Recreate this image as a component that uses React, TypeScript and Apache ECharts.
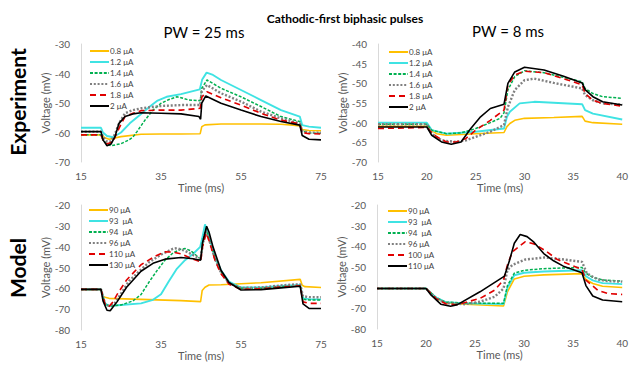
import React, { useEffect, useRef } from "react";
import * as echarts from "echarts";

// ---------- labels ----------
const expLabels = ["0.8 μA", "1.2 μA", "1.4 μA", "1.6 μA", "1.8 μA", "2 μA"];
const modelLeftLabels = ["90 μA", "93  μA", "94  μA", "96 μA", "110 μA", "130 μA"];
const modelRightLabels = ["90 μA", "93  μA", "94  μA", "96 μA", "100 μA", "110 μA"];

// ---------- Experiment, PW = 25 ms ----------
const e25_08 = [[15,-60.8],[20,-60.8],[21,-61.8],[22,-62.3],[25,-61.4],[30,-60.6],[35,-60.5],[40,-60.5],[44.8,-60.4],[45.2,-58],[46,-57.4],[50,-57.1],[60,-57.1],[65,-57.2],[68,-57.5],[69.8,-57.8],[70.3,-59],[72,-59.3],[75,-59.4]];
const e25_12 = [[15,-58.4],[20,-58.4],[20.5,-60],[21.5,-61.2],[23,-61.6],[25,-60],[27.2,-56.9],[29.8,-54],[32.2,-51.2],[34,-49.3],[36.4,-47.9],[40,-47],[44.7,-45.4],[45.3,-42],[46.4,-39.7],[48,-40.5],[50,-42.2],[55,-45.6],[60,-49],[65,-52.4],[69.7,-54.6],[70.3,-57.5],[72,-58],[75,-58.4]];
const e25_14 = [[15,-60.8],[20,-60.8],[20.5,-62.5],[21.5,-64],[22.5,-64.5],[25,-63.8],[27,-62.5],[28,-61.5],[29,-59.7],[31,-55.8],[33,-52.4],[35,-50.1],[37,-48.8],[39,-47.9],[40,-48.2],[42,-49],[44.8,-49.2],[45.2,-45],[46.5,-42.2],[50,-45],[55,-47.9],[60,-51.2],[65,-54.6],[69.7,-56.3],[70.3,-59.5],[72,-60.1],[75,-60.3]];
const e25_16 = [[15,-59.7],[20,-59.7],[20.5,-61.5],[21.5,-63.1],[22.5,-63],[23.5,-60.5],[24.5,-56.9],[26,-53.5],[28,-52.4],[30,-51.8],[35,-51],[40,-50.7],[44.8,-50.7],[45.2,-46],[46.5,-43.9],[50,-46.7],[55,-49.5],[60,-52.9],[65,-55.2],[69.7,-56.9],[70.3,-59.5],[72,-60],[75,-60.1]];
const e25_18 = [[15,-60.8],[20,-60.8],[20.5,-62.5],[21.5,-63.9],[23,-63.1],[24.5,-58.6],[26,-54.6],[28,-53.5],[30,-52.6],[35,-52.4],[40,-52.4],[44.8,-51.8],[45.2,-48],[46.5,-46.2],[50,-48.2],[55,-50.7],[60,-53.5],[65,-55.8],[69.7,-57.1],[70.3,-60],[72,-60.4],[75,-60.5]];
const e25_20 = [[15,-59.7],[20,-59.7],[20.5,-62.5],[21.5,-64.5],[22.5,-63.9],[23.5,-61.4],[24.5,-56.9],[26,-54.6],[28,-53.7],[30,-53.3],[35,-53.5],[40,-53.7],[44.5,-54.6],[44.9,-55.5],[45.2,-50],[46.2,-47.6],[50,-50.1],[55,-52.4],[60,-54.6],[65,-56.3],[69.7,-57.5],[70.3,-61],[72,-62.3],[75,-62.5]];

// ---------- Experiment, PW = 8 ms ----------
const e8_08 = [[15,-60.9],[20,-60.9],[20.5,-62],[21,-62.8],[22,-63.2],[25,-62.8],[27.9,-62.5],[28.2,-61],[28.5,-60.2],[29,-59.4],[30,-58.9],[33,-58.7],[35.9,-58.4],[36.2,-59.6],[37,-60],[40,-60.4]];
const e8_12 = [[15,-60],[20,-60],[20.5,-61.9],[22,-62.8],[25,-62.3],[27.9,-61.5],[28.2,-58.5],[28.5,-57.2],[29.5,-55.1],[31,-54.7],[35.9,-55.3],[36.2,-56.8],[37,-57.7],[40,-59.2]];
const e8_14 = [[15,-60.4],[20,-60.4],[20.5,-61.9],[22,-62.8],[23.5,-62.6],[25,-61.5],[26.5,-60],[27.5,-58.9],[27.9,-57.5],[28.3,-51.7],[29,-48.3],[30,-46.8],[32,-47.3],[34,-48.5],[35.9,-49.6],[36.2,-51.3],[37,-52.6],[38,-53.4],[40,-53.8]];
const e8_16 = [[15,-60.4],[20,-60.4],[20.5,-62.8],[21.5,-64.5],[23,-64.9],[24,-64.5],[25,-63.6],[26.5,-62.3],[27.9,-60.6],[28.3,-56],[29,-51.7],[30,-49.2],[31,-48.8],[33,-49.9],[35.9,-51.3],[36.2,-53],[37,-54.3],[38,-55.1],[40,-55.4]];
const e8_18 = [[15,-61.5],[20,-61.2],[20.5,-62.5],[21,-63.6],[22,-64.9],[23,-64.9],[24,-64],[25,-61.9],[26.5,-59.4],[27.9,-56.8],[28.3,-50.4],[29,-47.9],[30,-46.9],[32,-47.3],[34,-48.8],[35.9,-50.4],[36.2,-52.6],[37,-54.3],[38,-55.1],[40,-55.8]];
const e8_20 = [[15,-61.1],[20,-61.1],[20.5,-63.2],[21.5,-64.9],[22.5,-65.5],[23.5,-64.9],[24.5,-61.5],[25.5,-58.5],[26.5,-56.4],[27.9,-55.3],[28.3,-50],[29,-47.1],[30,-45.9],[32,-46.6],[34,-48.2],[35.9,-49.9],[36.2,-51.6],[37,-53.4],[38,-54.7],[40,-55.5]];

// ---------- Model, PW = 25 ms ----------
const m25_90 = [[15,-60.5],[20,-60.5],[20.5,-64],[22,-64.8],[30,-65.3],[40,-65.9],[44.9,-66.4],[45.3,-61],[46,-59.5],[47,-58.4],[50,-58.3],[60,-57.3],[69.8,-55.7],[70.3,-58.5],[71,-59.2],[75,-59.6]];
const m25_93 = [[15,-60.5],[20,-60.5],[21,-67.2],[22,-68.5],[25,-68],[30,-67.2],[33,-65.5],[35,-62.8],[37,-56.5],[39,-50.5],[41,-46.5],[43,-43.5],[44.8,-40.1],[45.3,-36],[46,-29.3],[47,-35.3],[48.5,-44.9],[50,-51.3],[52,-56.8],[55,-59.6],[60,-59.6],[65,-58.9],[69.8,-58.4],[70.5,-64.8],[72,-65.2],[75,-65.3]];
const m25_94 = [[15,-60.5],[20,-60.5],[21,-67.5],[22,-68.5],[25,-68],[28,-66],[30,-63],[32,-57],[34,-51.5],[36,-46.5],[38,-43],[40,-41.2],[41,-40.9],[42.5,-42],[44,-44.5],[44.9,-46],[45.4,-38],[46.2,-31.5],[47,-35.8],[48.5,-45.5],[50,-52],[52,-57.5],[55,-60],[60,-60],[65,-59.2],[69.8,-58.8],[70.5,-65.2],[72,-65.6],[75,-65.6]];
const m25_96 = [[15,-60.5],[20,-60.5],[21,-67.5],[22,-68.5],[23.5,-67],[25,-62.5],[27,-56.5],[30,-51],[32,-47.5],[35,-43.8],[38,-41],[39,-40.7],[41,-42],[43,-44],[44.9,-46],[45.4,-39],[46.2,-32.5],[47,-36.5],[48.5,-46],[50,-52.5],[52,-57.5],[55,-59.8],[60,-59.6],[65,-58.6],[69.8,-58],[70.5,-63.8],[72,-64.2],[75,-64.3]];
const m25_110 = [[15,-60.5],[20,-60.5],[21,-67.5],[22,-68.8],[23,-66.5],[24,-63],[26.4,-56],[30,-48.7],[33.5,-44.6],[36,-42.5],[38,-42.6],[40,-43.4],[43,-46],[44.9,-47.3],[45.4,-40],[46.3,-33.5],[47,-37],[48.5,-46.5],[50,-53],[52,-58],[55,-60.5],[60,-60.2],[65,-59.4],[69.8,-58.8],[70.5,-66.5],[72,-67.2],[75,-67.2]];
const m25_130 = [[15,-60.5],[20,-60.5],[20.5,-66],[21.5,-70.5],[22.3,-70.8],[23,-69],[24,-66.5],[26.4,-59.5],[30,-51.8],[33,-48],[36,-46],[40,-45.2],[43,-45.8],[44.9,-46.5],[45.4,-38],[46.4,-30.2],[47,-33],[48,-40.1],[50,-51.3],[52,-57.2],[55,-60.8],[60,-60.6],[65,-59.8],[69.8,-59],[70.5,-67.5],[72,-69.6],[75,-69.7]];

// ---------- Model, PW = 8 ms ----------
const m8_90 = [[15,-60.4],[20,-60.4],[21,-65],[22,-67.3],[24,-68],[27.9,-68.9],[28.3,-62],[29,-55.8],[30,-54.5],[32,-53.8],[35.9,-53.2],[36.3,-56],[37,-58],[38,-59.3],[40,-59.9]];
const m8_93 = [[15,-60.4],[20,-60.4],[21,-64.7],[22,-67],[24,-67.6],[27.9,-67.9],[28.3,-60],[29,-54],[30,-52.8],[32,-52.2],[35.9,-51.6],[36.3,-54.5],[37,-56.5],[38,-57.8],[40,-58.3]];
const m8_94 = [[15,-60.4],[20,-60.4],[21,-64.7],[22,-67],[24,-67.4],[27.9,-67.6],[28.3,-59],[29,-53],[30,-51.6],[32,-50.8],[35.9,-50.2],[36.3,-53],[37,-55],[38,-56.3],[40,-56.8]];
const m8_96 = [[15,-60.4],[20,-60.4],[21,-65],[22,-67.5],[24,-68],[25.5,-66.8],[27,-64.4],[27.9,-60.4],[28.3,-51.5],[28.8,-49],[30.1,-46.4],[32.1,-45.4],[34.1,-46.4],[35.9,-47.5],[36.4,-53.1],[37.5,-56],[38.5,-56.8],[40,-57.1]];
const m8_100 = [[15,-60.4],[20,-60.4],[21,-65.2],[22,-67.8],[23.1,-68.3],[25.5,-65.2],[27,-61.2],[27.9,-56.3],[28.3,-49],[28.8,-42.7],[30.1,-37.8],[31,-38.8],[32.1,-41.9],[33.4,-46.4],[35.4,-50.2],[35.9,-51.2],[36.3,-56.3],[37.5,-61.2],[38.5,-62.8],[40,-63.3]];
const m8_110 = [[15,-60.4],[20,-60.4],[20.5,-63.5],[21.5,-68],[22.5,-69],[23.2,-68.2],[25.5,-62],[28,-54.4],[28.5,-47],[29,-38.5],[29.6,-34.3],[30.3,-35.3],[31,-38],[32,-43.5],[33,-47],[34,-49.6],[35.9,-52.8],[36.3,-59],[37,-64],[38,-66],[40,-66.8]];

const FONT = 'Lato, "Open Sans", sans-serif';

const styles = [
  { color: "#FFC000", width: 1.6, type: "solid" },
  { color: "#3FE3E3", width: 1.9, type: "solid" },
  { color: "#00B050", width: 1.5, type: [3, 1.6] },
  { color: "#808080", width: 2.4, type: [2, 1.8] },
  { color: "#E00000", width: 1.6, type: [6, 4] },
  { color: "#000000", width: 1.6, type: "solid" },
];

const panels = [
  { labels: expLabels, data: [e25_08, e25_12, e25_14, e25_16, e25_18, e25_20] },
  { labels: expLabels, data: [e8_08, e8_12, e8_14, e8_16, e8_18, e8_20] },
  { labels: modelLeftLabels, data: [m25_90, m25_93, m25_94, m25_96, m25_110, m25_130] },
  { labels: modelRightLabels, data: [m8_90, m8_93, m8_94, m8_96, m8_100, m8_110] },
];

const grids = [
  { left: 81, top: 44, width: 240, height: 118 },
  { left: 378, top: 44, width: 250, height: 118 },
  { left: 81, top: 205, width: 240, height: 125 },
  { left: 377, top: 205, width: 251, height: 124 },
];
const xRanges = [
  { min: 15, max: 75, interval: 20 },
  { min: 15, max: 40, interval: 5 },
  { min: 15, max: 75, interval: 20 },
  { min: 15, max: 40, interval: 5 },
];
const yRanges = [
  { min: -70, max: -30, interval: 10 },
  { min: -70, max: -40, interval: 5 },
  { min: -80, max: -20, interval: 10 },
  { min: -80, max: -20, interval: 10 },
];
const legendPos = [
  { left: 89, top: 47 },
  { left: 388, top: 48 },
  { left: 88, top: 206 },
  { left: 387, top: 207 },
];

export default function App() {
  const ref = useRef<HTMLDivElement>(null);
  useEffect(() => {
    if (!ref.current) return;
    const chart = echarts.init(ref.current, undefined, { renderer: "svg" });
    const axisLabel = { fontFamily: FONT, fontSize: 10, color: "#595959" };
    const nameStyle = { fontFamily: FONT, fontSize: 11, color: "#595959" };
    const series: any[] = [];
    panels.forEach((p, pi) => {
      p.data.forEach((d, si) => {
        const s = styles[si];
        series.push({
          type: "line",
          name: `${p.labels[si]}|${pi}`,
          xAxisIndex: pi,
          yAxisIndex: pi,
          data: d,
          symbol: "none",
          lineStyle: { color: s.color, width: s.width, type: s.type },
          itemStyle: { color: s.color },
          z: 2 + si,
        });
      });
    });
    const option: any = {
      animation: false,
      backgroundColor: "#ffffff",
      title: [
        { text: "Cathodic-first biphasic pulses", left: 340, top: 7, textAlign: "center",
          textStyle: { fontFamily: FONT, fontSize: 12, fontWeight: "bold", color: "#000" } },
        { text: "PW = 25 ms", left: 199, top: 19, textAlign: "center",
          textStyle: { fontFamily: FONT, fontSize: 15, fontWeight: "normal", color: "#000" } },
        { text: "PW = 8 ms", left: 503, top: 18, textAlign: "center",
          textStyle: { fontFamily: FONT, fontSize: 15, fontWeight: "normal", color: "#000" } },
      ],
      grid: grids.map((g) => ({ ...g, containLabel: false })),
      xAxis: grids.map((_, i) => ({
        type: "value",
        gridIndex: i,
        ...xRanges[i],
        name: "Time (ms)",
        nameLocation: "middle",
        nameGap: i < 2 ? 17 : 20,
        nameTextStyle: nameStyle,
        axisLine: { show: false },
        axisTick: { show: false },
        splitLine: { show: false },
        axisLabel: { ...axisLabel, margin: 9 },
      })),
      yAxis: grids.map((_, i) => ({
        type: "value",
        gridIndex: i,
        ...yRanges[i],
        name: "Voltage (mV)",
        nameLocation: "middle",
        nameGap: i === 1 || i === 3 ? 28 : 29,
        nameTextStyle: nameStyle,
        axisLine: { show: true, lineStyle: { color: "#D9D9D9", width: 1 } },
        axisTick: { show: false },
        splitLine: { show: false },
        axisLabel: { ...axisLabel, margin: 11 },
      })),
      legend: panels.map((p, pi) => ({
        orient: "vertical",
        ...legendPos[pi],
        itemWidth: 19,
        itemHeight: 8,
        itemGap: 3,
        padding: 0,
        selectedMode: false,
        itemStyle: { opacity: 0 },
        data: p.labels.map((l) => `${l}|${pi}`),
        formatter: (n: string) => n.split("|")[0],
        textStyle: { fontFamily: FONT, fontSize: 8, color: "#404040", padding: [0, 0, 0, -4] },
      })),
      graphic: [
        { type: "text", x: 17, y: 102, rotation: Math.PI / 2,
          style: { text: "Experiment", fontFamily: FONT, fontSize: 21, fontWeight: "bold", fill: "#000", align: "center", verticalAlign: "middle" } },
        { type: "text", x: 17, y: 268, rotation: Math.PI / 2,
          style: { text: "Model", fontFamily: FONT, fontSize: 21, fontWeight: "bold", fill: "#000", align: "center", verticalAlign: "middle" } },
      ],
      series,
    };
    chart.setOption(option);
    return () => chart.dispose();
  }, []);
  return (
    <div
      ref={ref}
      style={{ position: "fixed", left: 0, top: 0, width: 631, height: 367, background: "#fff" }}
    />
  );
}
